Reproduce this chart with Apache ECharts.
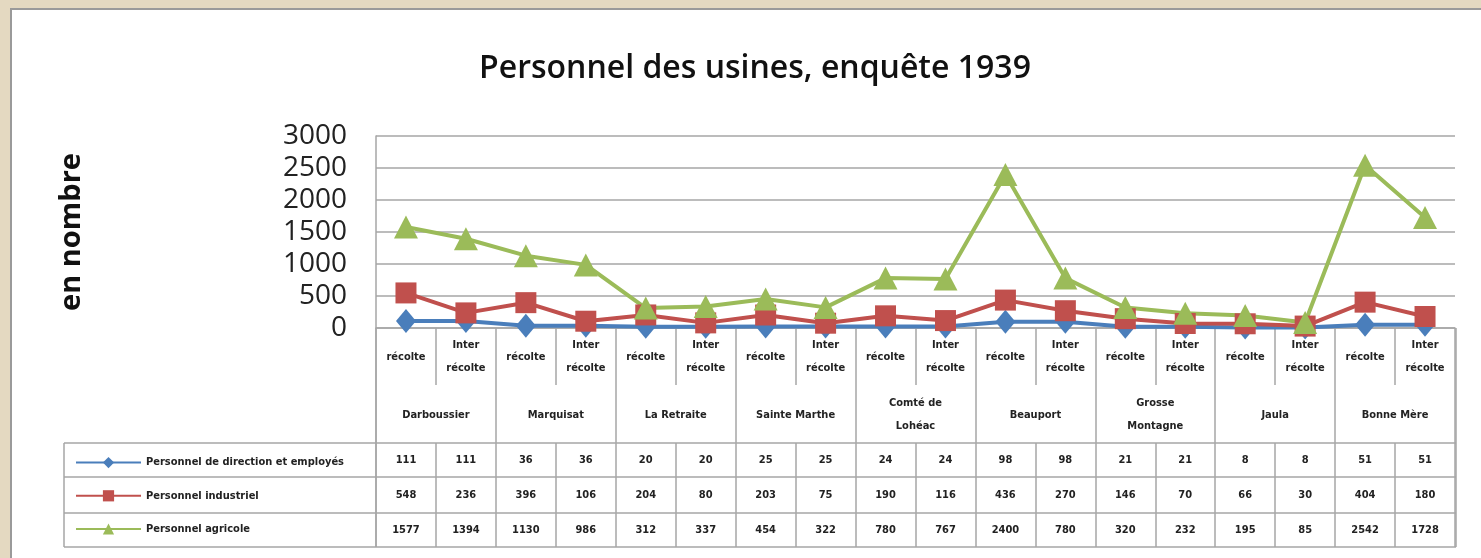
<!DOCTYPE html>
<html>
<head>
<meta charset="utf-8">
<script src="https://cdn.jsdelivr.net/npm/echarts@6/dist/echarts.min.js"></script>
<style>
  body { margin: 0; background: #e4d9c1; }
  #frame {
    position: absolute; left: 10px; top: 8px; width: 1471px; height: 550px;
    background: #fff; border-left: 2px solid #9a9a9a; border-top: 2px solid #9a9a9a;
  }
  #chart { position: absolute; left: 0; top: 0; width: 1481px; height: 558px; }
</style>
</head>
<body>
<div id="frame"></div>
<div id="chart"></div>
<script>
const subLabels = ['récolte', 'Inter\nrécolte', 'récolte', 'Inter\nrécolte', 'récolte', 'Inter\nrécolte',
  'récolte', 'Inter\nrécolte', 'récolte', 'Inter\nrécolte', 'récolte', 'Inter\nrécolte',
  'récolte', 'Inter\nrécolte', 'récolte', 'Inter\nrécolte', 'récolte', 'Inter\nrécolte']
const usines = ['Darboussier', 'Marquisat', 'La Retraite', 'Sainte Marthe', 'Comté de\nLohéac',
  'Beauport', 'Grosse\nMontagne', 'Jaula', 'Bonne Mère']
const seriesNames = ['Personnel de direction et employés', 'Personnel industriel', 'Personnel agricole']
const direction = [111, 111, 36, 36, 20, 20, 25, 25, 24, 24, 98, 98, 21, 21, 8, 8, 51, 51]
const industriel = [548, 236, 396, 106, 204, 80, 203, 75, 190, 116, 436, 270, 146, 70, 66, 30, 404, 180]
const agricole = [1577, 1394, 1130, 986, 312, 337, 454, 322, 780, 767, 2400, 780, 320, 232, 195, 85, 2542, 1728]
const yTicks = [0, 500, 1000, 1500, 2000, 2500, 3000]

const chart = echarts.init(document.getElementById('chart'))
const gray = '#a6a6a6'
const smallFont = "'Liberation Sans Narrow', 'DejaVu Sans Condensed', 'Liberation Sans', sans-serif"
const cats = subLabels.map((s, i) => 'c' + i)

// axe des lignes du tableau de données
function rowAxis (values, offset, height) {
  return {
    type: 'category',
    data: cats,
    position: 'bottom',
    offset: offset,
    axisLine: { show: false },
    axisTick: { show: true, interval: 0, length: height, lineStyle: { color: gray, width: 1.5 } },
    axisLabel: {
      interval: 0,
      margin: height / 2,
      verticalAlign: 'middle',
      fontFamily: smallFont,
      fontWeight: 'bold',
      fontSize: 11,
      color: '#222',
      formatter: (v, i) => String(values[i])
    }
  }
}

function hLine (y) {
  return { type: 'line', shape: { x1: 64, y1: y, x2: 1456, y2: y }, style: { stroke: gray, lineWidth: 1.5 }, silent: true }
}
function vLine (x, y1, y2) {
  return { type: 'line', shape: { x1: x, y1: y1, x2: x, y2: y2 }, style: { stroke: gray, lineWidth: 1.5 }, silent: true }
}

chart.setOption({
  animation: false,
  title: {
    text: 'Personnel des usines, enquête 1939',
    left: 750,
    textAlign: 'center',
    top: 48,
    textStyle: { fontFamily: 'Open Sans', fontSize: 32, fontWeight: 600, color: '#111' }
  },
  legend: {
    orient: 'vertical',
    left: 70,
    top: 452,
    itemWidth: 65,
    itemHeight: 14,
    itemGap: 22,
    data: seriesNames,
    textStyle: { fontFamily: smallFont, fontWeight: 'bold', fontSize: 11, color: '#222' }
  },
  grid: { left: 376, right: 26, top: 136, bottom: 230 },
  xAxis: [
    {
      type: 'category',
      data: cats,
      axisLine: { show: true, lineStyle: { color: gray, width: 1.5 } },
      axisTick: { show: true, interval: 0, length: 57, lineStyle: { color: gray, width: 1.5 } },
      axisLabel: {
        interval: 0,
        margin: 29,
        verticalAlign: 'middle',
        lineHeight: 23,
        fontFamily: smallFont,
        fontWeight: 'bold',
        fontSize: 11,
        color: '#222',
        formatter: (v, i) => subLabels[i]
      }
    },
    {
      type: 'category',
      data: usines,
      position: 'bottom',
      axisLine: { show: false },
      axisTick: { show: true, interval: 0, length: 115, lineStyle: { color: gray, width: 1.5 } },
      axisLabel: {
        interval: 0,
        margin: 87,
        verticalAlign: 'middle',
        lineHeight: 23,
        fontFamily: smallFont,
        fontWeight: 'bold',
        fontSize: 11,
        color: '#222'
      }
    },
    rowAxis(direction, 115, 34),
    rowAxis(industriel, 149, 36),
    rowAxis(agricole, 185, 34)
  ],
  yAxis: {
    type: 'value',
    min: yTicks[0],
    max: yTicks[yTicks.length - 1],
    interval: 500,
    name: 'en nombre',
    nameLocation: 'middle',
    nameGap: 290,
    nameTextStyle: { fontFamily: 'Open Sans', fontWeight: 'bold', fontSize: 29, color: '#111' },
    axisLine: { show: true, lineStyle: { color: gray, width: 1.5 } },
    axisTick: { show: false },
    axisLabel: {
      margin: 29, fontFamily: 'Open Sans', fontSize: 28, color: '#222', lineHeight: 28,
      formatter: v => String(v)
    },
    splitLine: { lineStyle: { color: gray, width: 1.5 } }
  },
  series: [
    {
      name: seriesNames[0],
      type: 'line',
      data: direction,
      symbol: 'diamond',
      symbolSize: [20, 24],
      lineStyle: { width: 4, color: '#4a7ebb' },
      itemStyle: { color: '#4a7ebb' }
    },
    {
      name: seriesNames[1],
      type: 'line',
      data: industriel,
      symbol: 'rect',
      symbolSize: 21,
      lineStyle: { width: 4, color: '#c0504d' },
      itemStyle: { color: '#c0504d' }
    },
    {
      name: seriesNames[2],
      type: 'line',
      data: agricole,
      symbol: 'triangle',
      symbolSize: [24, 23],
      lineStyle: { width: 4, color: '#9bbb59' },
      itemStyle: { color: '#9bbb59' }
    }
  ],
  graphic: [
    hLine(443), hLine(477), hLine(513), hLine(547),
    vLine(64, 443, 547), vLine(376, 328, 547), vLine(1456, 328, 547)
  ]
})
</script>
</body>
</html>
